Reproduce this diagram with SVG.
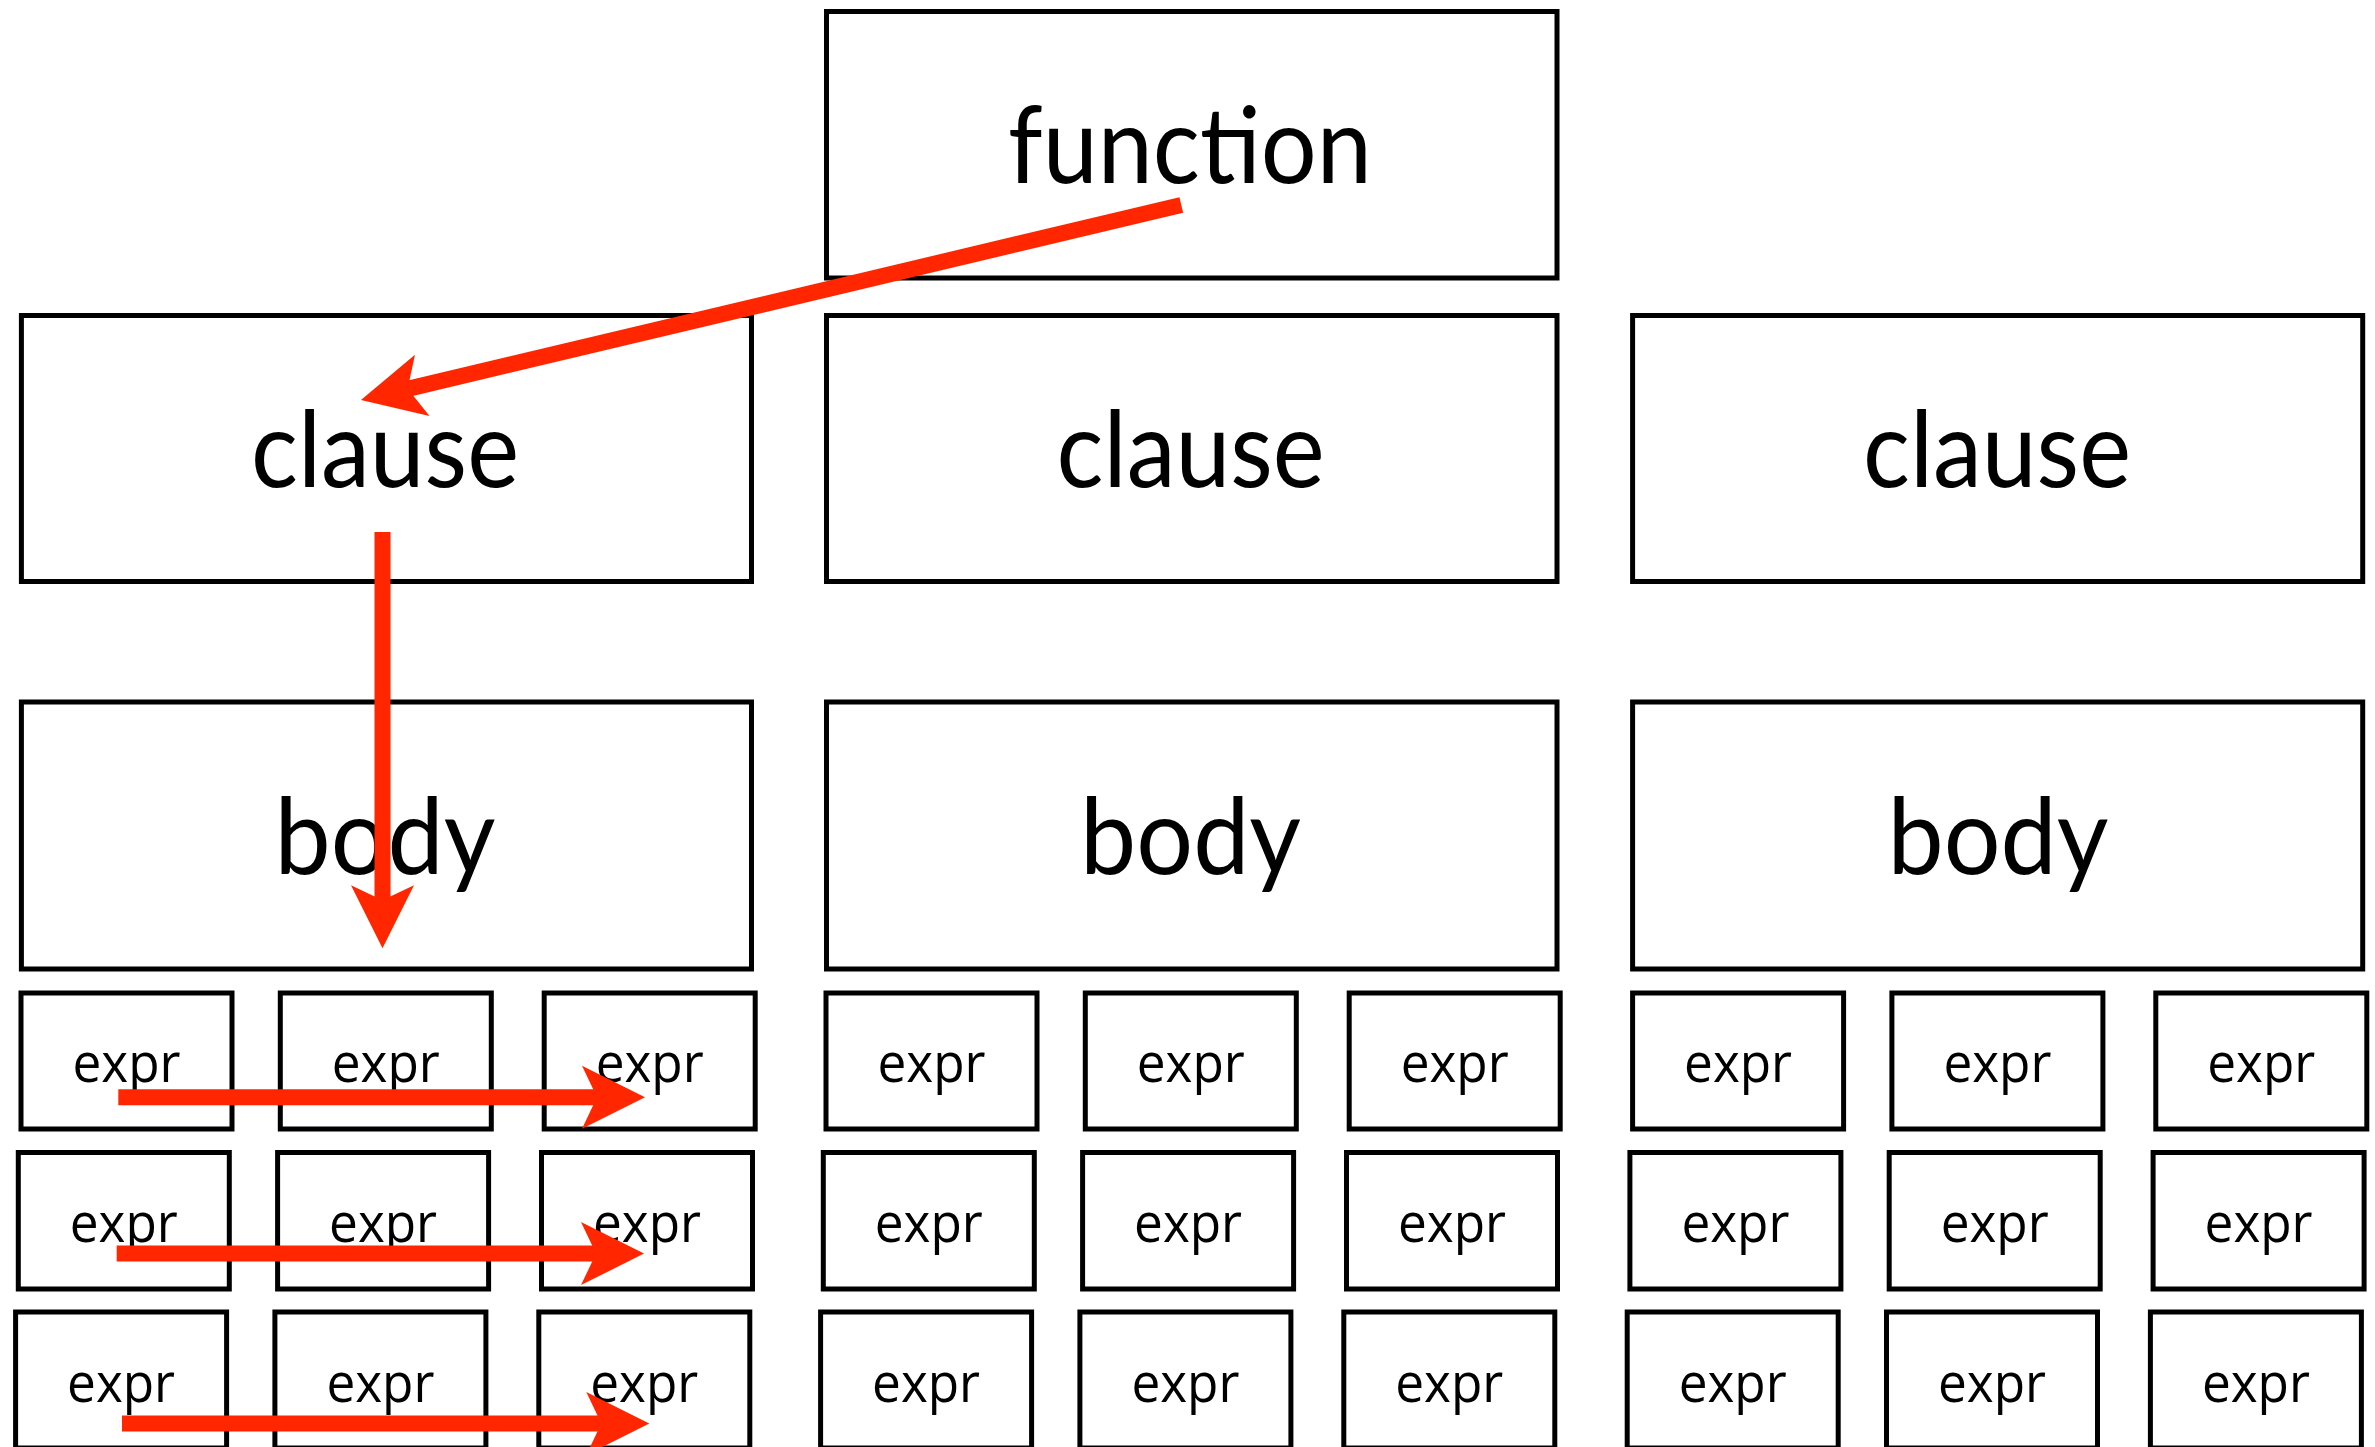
<svg xmlns="http://www.w3.org/2000/svg" width="2375" height="1447" viewBox="0 0 2375 1447">
<style>
.box{fill:#fff;stroke:#000;stroke-width:5}
.big{font-family:Lato,"Open Sans","Liberation Sans",sans-serif;font-size:107px;text-anchor:middle;fill:#000}
.small{font-family:"Open Sans","DejaVu Sans","Liberation Sans",sans-serif;font-size:54px;text-anchor:middle;fill:#000}
.arrow{stroke:#FF2600;stroke-width:16;fill:none;marker-end:url(#head)}
</style>
<defs>
<marker id="head" viewBox="-64 -33 66 66" refX="-47" refY="0" markerWidth="66" markerHeight="66" markerUnits="userSpaceOnUse" orient="auto">
<path d="M0,0 L-63,-31.5 L-48,0 L-63,31.5 Z" fill="#FF2600"/>
</marker>
</defs>
<rect width="2375" height="1447" fill="#fff"/>
<g id="function"><rect class="box" x="826.5" y="11.5" width="730.5" height="266.5"/><text class="big" x="1190" y="183" textLength="364" lengthAdjust="spacingAndGlyphs">function</text></g>
<g id="clause1"><rect class="box" x="21.4" y="315.5" width="730.1" height="266"/><text class="big" x="385" y="487" textLength="268" lengthAdjust="spacingAndGlyphs">clause</text></g>
<g id="clause2"><rect class="box" x="826.5" y="315.5" width="730.5" height="266"/><text class="big" x="1190.6" y="487" textLength="268" lengthAdjust="spacingAndGlyphs">clause</text></g>
<g id="clause3"><rect class="box" x="1632.6" y="315.5" width="730.1" height="266"/><text class="big" x="1997" y="487" textLength="268" lengthAdjust="spacingAndGlyphs">clause</text></g>
<g id="body1"><rect class="box" x="21.4" y="702" width="730.1" height="267"/><text class="big" x="385" y="874" textLength="221" lengthAdjust="spacingAndGlyphs">body</text></g>
<g id="body2"><rect class="box" x="826.5" y="702" width="730.5" height="267"/><text class="big" x="1190.6" y="874" textLength="221" lengthAdjust="spacingAndGlyphs">body</text></g>
<g id="body3"><rect class="box" x="1632.6" y="702" width="730.1" height="267"/><text class="big" x="1998" y="874" textLength="221" lengthAdjust="spacingAndGlyphs">body</text></g>
<g id="expr-1-1"><rect class="box" x="21" y="993" width="211" height="136"/><text class="small" x="126.5" y="1082" textLength="108" lengthAdjust="spacingAndGlyphs">expr</text></g>
<g id="expr-1-2"><rect class="box" x="280.3" y="993" width="211" height="136"/><text class="small" x="385.8" y="1082" textLength="108" lengthAdjust="spacingAndGlyphs">expr</text></g>
<g id="expr-1-3"><rect class="box" x="544.2" y="993" width="211" height="136"/><text class="small" x="649.7" y="1082" textLength="108" lengthAdjust="spacingAndGlyphs">expr</text></g>
<g id="expr-1-4"><rect class="box" x="826" y="993" width="211" height="136"/><text class="small" x="931.5" y="1082" textLength="108" lengthAdjust="spacingAndGlyphs">expr</text></g>
<g id="expr-1-5"><rect class="box" x="1085.3" y="993" width="211" height="136"/><text class="small" x="1190.8" y="1082" textLength="108" lengthAdjust="spacingAndGlyphs">expr</text></g>
<g id="expr-1-6"><rect class="box" x="1349.2" y="993" width="211" height="136"/><text class="small" x="1454.7" y="1082" textLength="108" lengthAdjust="spacingAndGlyphs">expr</text></g>
<g id="expr-1-7"><rect class="box" x="1632.6" y="993" width="211" height="136"/><text class="small" x="1738.1" y="1082" textLength="108" lengthAdjust="spacingAndGlyphs">expr</text></g>
<g id="expr-1-8"><rect class="box" x="1891.9" y="993" width="211" height="136"/><text class="small" x="1997.4" y="1082" textLength="108" lengthAdjust="spacingAndGlyphs">expr</text></g>
<g id="expr-1-9"><rect class="box" x="2155.8" y="993" width="211" height="136"/><text class="small" x="2261.3" y="1082" textLength="108" lengthAdjust="spacingAndGlyphs">expr</text></g>
<g id="expr-2-1"><rect class="box" x="18.3" y="1152.5" width="211" height="136.5"/><text class="small" x="123.8" y="1241.7" textLength="108" lengthAdjust="spacingAndGlyphs">expr</text></g>
<g id="expr-2-2"><rect class="box" x="277.6" y="1152.5" width="211" height="136.5"/><text class="small" x="383.1" y="1241.7" textLength="108" lengthAdjust="spacingAndGlyphs">expr</text></g>
<g id="expr-2-3"><rect class="box" x="541.5" y="1152.5" width="211" height="136.5"/><text class="small" x="647" y="1241.7" textLength="108" lengthAdjust="spacingAndGlyphs">expr</text></g>
<g id="expr-2-4"><rect class="box" x="823.3" y="1152.5" width="211" height="136.5"/><text class="small" x="928.8" y="1241.7" textLength="108" lengthAdjust="spacingAndGlyphs">expr</text></g>
<g id="expr-2-5"><rect class="box" x="1082.6" y="1152.5" width="211" height="136.5"/><text class="small" x="1188.1" y="1241.7" textLength="108" lengthAdjust="spacingAndGlyphs">expr</text></g>
<g id="expr-2-6"><rect class="box" x="1346.5" y="1152.5" width="211" height="136.5"/><text class="small" x="1452" y="1241.7" textLength="108" lengthAdjust="spacingAndGlyphs">expr</text></g>
<g id="expr-2-7"><rect class="box" x="1629.9" y="1152.5" width="211" height="136.5"/><text class="small" x="1735.4" y="1241.7" textLength="108" lengthAdjust="spacingAndGlyphs">expr</text></g>
<g id="expr-2-8"><rect class="box" x="1889.2" y="1152.5" width="211" height="136.5"/><text class="small" x="1994.7" y="1241.7" textLength="108" lengthAdjust="spacingAndGlyphs">expr</text></g>
<g id="expr-2-9"><rect class="box" x="2153.1" y="1152.5" width="211" height="136.5"/><text class="small" x="2258.6" y="1241.7" textLength="108" lengthAdjust="spacingAndGlyphs">expr</text></g>
<g id="expr-3-1"><rect class="box" x="15.6" y="1312" width="211" height="136"/><text class="small" x="121.1" y="1401.7" textLength="108" lengthAdjust="spacingAndGlyphs">expr</text></g>
<g id="expr-3-2"><rect class="box" x="274.9" y="1312" width="211" height="136"/><text class="small" x="380.4" y="1401.7" textLength="108" lengthAdjust="spacingAndGlyphs">expr</text></g>
<g id="expr-3-3"><rect class="box" x="538.8" y="1312" width="211" height="136"/><text class="small" x="644.3" y="1401.7" textLength="108" lengthAdjust="spacingAndGlyphs">expr</text></g>
<g id="expr-3-4"><rect class="box" x="820.6" y="1312" width="211" height="136"/><text class="small" x="926.1" y="1401.7" textLength="108" lengthAdjust="spacingAndGlyphs">expr</text></g>
<g id="expr-3-5"><rect class="box" x="1079.9" y="1312" width="211" height="136"/><text class="small" x="1185.4" y="1401.7" textLength="108" lengthAdjust="spacingAndGlyphs">expr</text></g>
<g id="expr-3-6"><rect class="box" x="1343.8" y="1312" width="211" height="136"/><text class="small" x="1449.3" y="1401.7" textLength="108" lengthAdjust="spacingAndGlyphs">expr</text></g>
<g id="expr-3-7"><rect class="box" x="1627.2" y="1312" width="211" height="136"/><text class="small" x="1732.7" y="1401.7" textLength="108" lengthAdjust="spacingAndGlyphs">expr</text></g>
<g id="expr-3-8"><rect class="box" x="1886.5" y="1312" width="211" height="136"/><text class="small" x="1992" y="1401.7" textLength="108" lengthAdjust="spacingAndGlyphs">expr</text></g>
<g id="expr-3-9"><rect class="box" x="2150.4" y="1312" width="211" height="136"/><text class="small" x="2255.9" y="1401.7" textLength="108" lengthAdjust="spacingAndGlyphs">expr</text></g>
<g id="connectors">
<path class="arrow" d="M1181.3,205 L406.7,389.1"/>
<path class="arrow" d="M382.5,532 L382.5,901.3"/>
<path class="arrow" d="M118.3,1097.3 L598,1097.3"/>
<path class="arrow" d="M116.7,1253.6 L597,1253.6"/>
<path class="arrow" d="M122,1423.5 L602.3,1423.5"/>
</g>
</svg>
